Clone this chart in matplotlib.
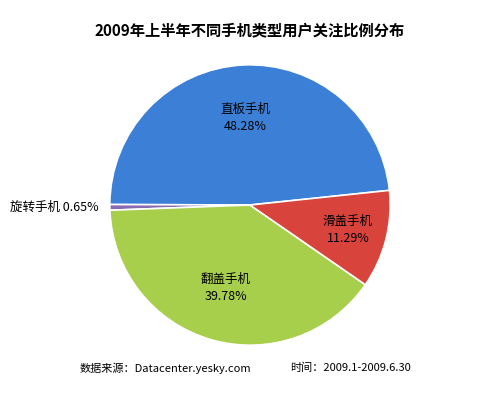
import matplotlib
matplotlib.use('Agg')
import matplotlib.pyplot as plt
import numpy as np

plt.rcParams['font.family'] = ['Noto Sans CJK SC', 'DejaVu Sans']

# data
names = ['直板手机', '旋转手机', '翻盖手机', '滑盖手机']
shares = [48.28, 0.65, 39.78, 11.29]
colors = ['#3C7FD6', '#8A6BB0', '#A8CF4C', '#D8433C']
label_r = [0.62, 1.08, 0.62, 0.72]

fig = plt.figure(figsize=(5, 4), dpi=100)
ax = fig.add_axes([0.214, 0.13, 0.572, 0.715])
wedges, _ = ax.pie(shares, colors=colors, startangle=6, counterclock=True,
                   wedgeprops=dict(edgecolor='white', linewidth=1.2))
ax.set_xlim(-1.02, 1.02)
ax.set_ylim(-1.02, 1.02)

for w, name, s, r in zip(wedges, names, shares, label_r):
    a = np.deg2rad((w.theta1 + w.theta2) / 2)
    x, y = r * np.cos(a), r * np.sin(a)
    if name == '旋转手机':
        ax.text(x, y, f'{name} {s:.2f}%', ha='right', va='center', fontsize=9)
    else:
        ax.text(x, y, f'{name}\n{s:.2f}%', ha='center', va='center',
                fontsize=9, linespacing=1.4)

fig.text(0.5, 0.925, '2009年上半年不同手机类型用户关注比例分布', ha='center',
         va='center', fontsize=11, fontweight='bold')
fig.text(0.16, 0.08, '数据来源：Datacenter.yesky.com', fontsize=8, va='center')
fig.text(0.58, 0.08, '时间：2009.1-2009.6.30', fontsize=8, va='center')

fig.savefig('out.png')
